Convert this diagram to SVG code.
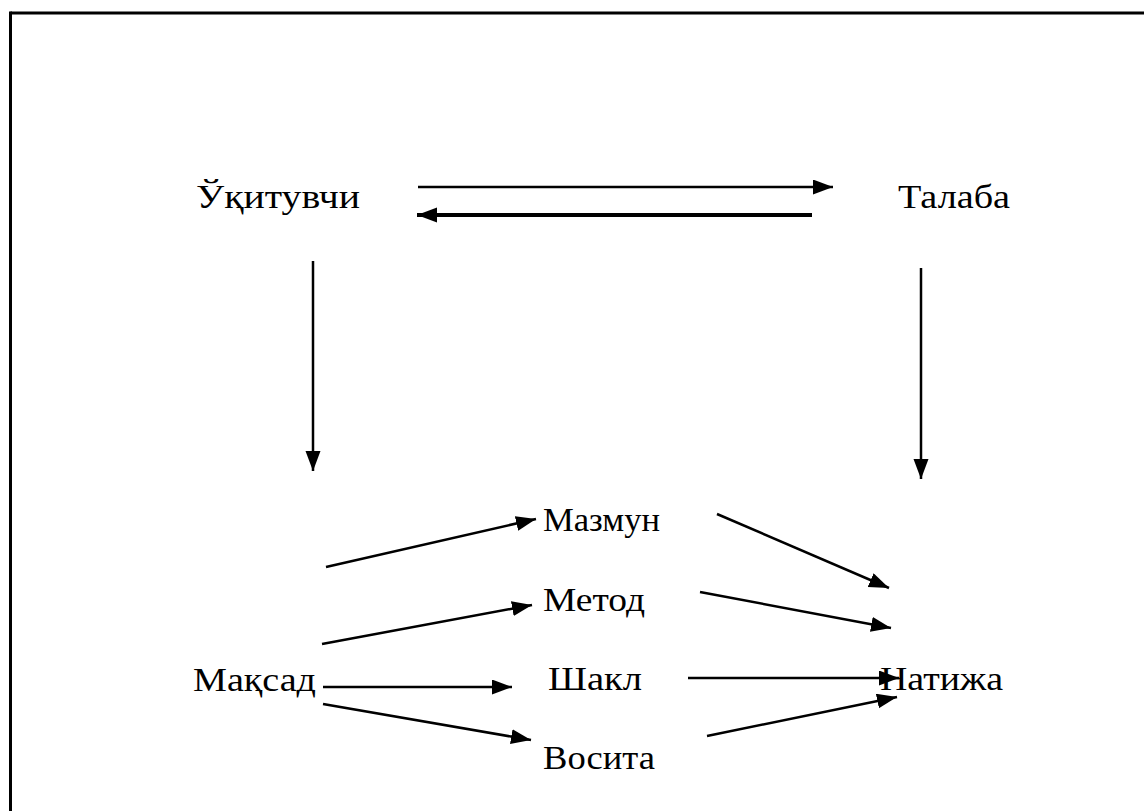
<svg xmlns="http://www.w3.org/2000/svg" width="1144" height="811" viewBox="0 0 1144 811">
<defs>
<marker id="ah" markerUnits="userSpaceOnUse" markerWidth="22" markerHeight="16" refX="20" refY="7.5" orient="auto">
<path d="M0,0 L20,7.5 L0,15 Z" fill="#000"/>
</marker>
<style>
text{font-family:"Liberation Serif","Times New Roman",serif;font-size:34px;fill:#000}
.c line{stroke:#000;stroke-width:2.5;marker-end:url(#ah)}
</style>
</defs>
<rect width="1144" height="811" fill="#fff"/>
<g id="frame" stroke="#000" stroke-width="3" fill="none">
<line x1="10.5" y1="13" x2="1144" y2="13"/>
<line x1="10.5" y1="11.5" x2="10.5" y2="811"/>
</g>
<g id="n-teacher"><text x="196" y="208" textLength="164" lengthAdjust="spacingAndGlyphs">Ўқитувчи</text></g>
<g id="n-student"><text x="898" y="208" textLength="112" lengthAdjust="spacingAndGlyphs">Талаба</text></g>
<g id="n-goal"><text x="193" y="691" textLength="123" lengthAdjust="spacingAndGlyphs">Мақсад</text></g>
<g id="n-content"><text x="543" y="531" textLength="117" lengthAdjust="spacingAndGlyphs">Мазмун</text></g>
<g id="n-method"><text x="543" y="611" textLength="102" lengthAdjust="spacingAndGlyphs">Метод</text></g>
<g id="n-form"><text x="548" y="690" textLength="94" lengthAdjust="spacingAndGlyphs">Шакл</text></g>
<g id="n-means"><text x="543" y="769" textLength="112" lengthAdjust="spacingAndGlyphs">Восита</text></g>
<g id="n-result"><text x="880" y="690" textLength="123" lengthAdjust="spacingAndGlyphs">Натижа</text></g>
<g class="c" id="connectors">
<line x1="418" y1="187" x2="833" y2="187"/>
<line x1="812" y1="215" x2="417" y2="215" style="stroke-width:4"/>
<line x1="313" y1="261" x2="313" y2="471"/>
<line x1="921" y1="268" x2="921" y2="479"/>
<line x1="326" y1="567" x2="536" y2="519"/>
<line x1="322" y1="644" x2="532" y2="605"/>
<line x1="323" y1="687" x2="512" y2="687"/>
<line x1="323" y1="704" x2="531" y2="740"/>
<line x1="717" y1="514" x2="889" y2="588"/>
<line x1="700" y1="592" x2="891" y2="628"/>
<line x1="688" y1="678" x2="899" y2="678"/>
<line x1="707" y1="736" x2="897" y2="697"/>
</g>
</svg>
